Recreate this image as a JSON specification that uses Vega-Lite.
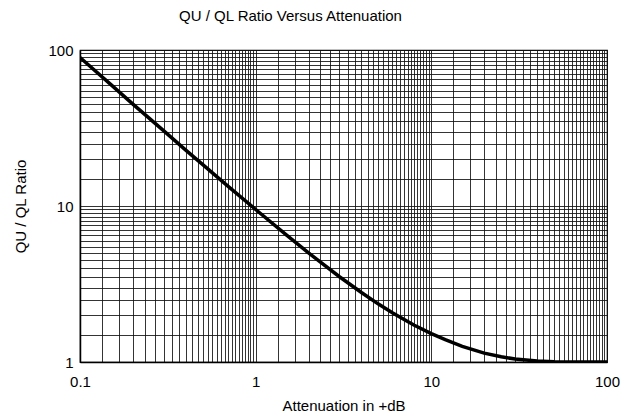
{
  "$schema": "https://vega.github.io/schema/vega-lite/v6.json",
  "width": 527,
  "height": 312,
  "autosize": "none",
  "padding": {"left": 80, "top": 50, "right": 17, "bottom": 55},
  "background": "white",
  "title": {
    "text": "QU / QL Ratio Versus Attenuation",
    "font": "Liberation Sans",
    "fontSize": 15,
    "fontWeight": "normal",
    "color": "black",
    "anchor": "middle",
    "frame": "group",
    "dx": -53,
    "dy": 10,
    "offset": 14,
    "baseline": "bottom"
  },
  "config": {
    "view": {"stroke": "black", "strokeWidth": 1.2},
    "axis": {
      "labelFont": "Liberation Sans",
      "titleFont": "Liberation Sans",
      "labelFontSize": 15,
      "titleFontSize": 15,
      "titleFontWeight": "normal",
      "labelColor": "black",
      "titleColor": "black",
      "ticks": false,
      "domainColor": "black",
      "domainWidth": 1.5,
      "gridColor": "#111111",
      "gridOpacity": 0.85,
      "gridWidth": 1
    }
  },
  "data": {
    "values": [
      {"atten": 0.1, "ratio": 89.5},
      {"atten": 0.15, "ratio": 60.0},
      {"atten": 0.2, "ratio": 45.0},
      {"atten": 0.3, "ratio": 30.3},
      {"atten": 0.4, "ratio": 22.8},
      {"atten": 0.5, "ratio": 18.4},
      {"atten": 0.7, "ratio": 13.3},
      {"atten": 1, "ratio": 9.5},
      {"atten": 1.5, "ratio": 6.5},
      {"atten": 2, "ratio": 5.0},
      {"atten": 3, "ratio": 3.52},
      {"atten": 4, "ratio": 2.79},
      {"atten": 5, "ratio": 2.35},
      {"atten": 6, "ratio": 2.07},
      {"atten": 7, "ratio": 1.87},
      {"atten": 8, "ratio": 1.72},
      {"atten": 10, "ratio": 1.52},
      {"atten": 12, "ratio": 1.39},
      {"atten": 15, "ratio": 1.26},
      {"atten": 20, "ratio": 1.14},
      {"atten": 25, "ratio": 1.08},
      {"atten": 30, "ratio": 1.045},
      {"atten": 40, "ratio": 1.015},
      {"atten": 50, "ratio": 1.005},
      {"atten": 70, "ratio": 1.001},
      {"atten": 100, "ratio": 1.0}
    ]
  },
  "mark": {"type": "line", "color": "black", "strokeWidth": 3.5, "clip": true},
  "encoding": {
    "x": {
      "field": "atten",
      "type": "quantitative",
      "scale": {"type": "log", "domain": [0.1, 100], "nice": false},
      "axis": {
        "title": "Attenuation in +dB",
        "titleBaseline": "middle",
        "titleY": 43,
        "labelPadding": 12,
        "labelFlush": false,
        "labelOverlap": false,
        "values": [0.1, 0.13333, 0.16667, 0.2, 0.23333, 0.26667, 0.3, 0.33333, 0.36667, 0.4, 0.43333, 0.46667, 0.5, 0.53333, 0.56667, 0.6, 0.63333, 0.66667, 0.7, 0.73333, 0.76667, 0.8, 0.83333, 0.86667, 0.9, 0.93333, 0.96667,
                   1, 1.3333, 1.6667, 2, 2.3333, 2.6667, 3, 3.3333, 3.6667, 4, 4.3333, 4.6667, 5, 5.3333, 5.6667, 6, 6.3333, 6.6667, 7, 7.3333, 7.6667, 8, 8.3333, 8.6667, 9, 9.3333, 9.6667,
                   10, 13.333, 16.667, 20, 23.333, 26.667, 30, 33.333, 36.667, 40, 43.333, 46.667, 50, 53.333, 56.667, 60, 63.333, 66.667, 70, 73.333, 76.667, 80, 83.333, 86.667, 90, 93.333, 96.667, 100],
        "labelExpr": "(datum.value == 0.1 || datum.value == 1 || datum.value == 10 || datum.value == 100) ? toString(datum.value) : ''"
      }
    },
    "y": {
      "field": "ratio",
      "type": "quantitative",
      "scale": {"type": "log", "domain": [1, 100], "nice": false},
      "axis": {
        "title": "QU / QL Ratio",
        "titleX": -60,
        "titleY": 156,
        "titleBaseline": "middle",
        "titleAngle": -90,
        "labelPadding": 7,
        "labelFlush": false,
        "labelOverlap": false,
        "values": [1, 1.5, 2, 2.5, 3, 3.5, 4, 4.5, 5, 5.5, 6, 6.5, 7, 7.5, 8, 8.5, 9, 9.5,
                   10, 15, 20, 25, 30, 35, 40, 45, 50, 55, 60, 65, 70, 75, 80, 85, 90, 95, 100],
        "labelExpr": "(datum.value == 1 || datum.value == 10 || datum.value == 100) ? toString(datum.value) : ''"
      }
    }
  }
}
